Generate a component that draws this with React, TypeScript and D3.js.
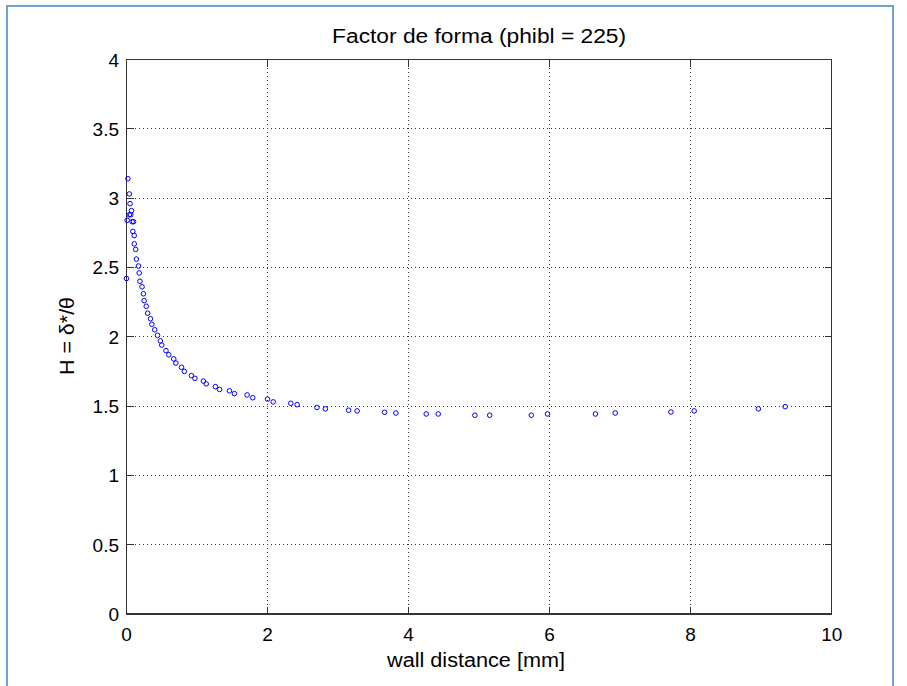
import React from "react";
import * as d3 from "d3";

const xValues: number[] = [
  0.02, 0.04, 0.05, 0.07, 0.04, 0.06, 0.01, 0.08, 0.10, 0.09, 0.11, 0.11, 0.13, 0.14, 0.17, 0.18, 0.0,
  0.19, 0.22, 0.24, 0.25, 0.28, 0.30, 0.34, 0.36, 0.40, 0.44, 0.48, 0.50, 0.56, 0.60, 0.67, 0.70,
  0.78, 0.82, 0.92, 0.97, 1.09, 1.13, 1.26, 1.32, 1.46, 1.53, 1.71, 1.79, 2.00, 2.08, 2.33, 2.42,
  2.70, 2.82, 3.15, 3.27, 3.66, 3.82, 4.25, 4.42, 4.94, 5.15, 5.74, 5.97, 6.65, 6.93, 7.72, 8.05,
  8.96, 9.34,
];
const hValues: number[] = [
  3.14, 3.03, 2.96, 2.91, 2.88, 2.88, 2.84, 2.83, 2.83, 2.76, 2.73, 2.67, 2.63, 2.56, 2.51, 2.46, 2.42,
  2.40, 2.36, 2.31, 2.26, 2.22, 2.17, 2.13, 2.09, 2.05, 2.01, 1.97, 1.94, 1.90, 1.87, 1.84, 1.81,
  1.78, 1.75, 1.72, 1.70, 1.68, 1.66, 1.64, 1.62, 1.61, 1.59, 1.58, 1.56, 1.55, 1.53, 1.52, 1.51,
  1.49, 1.48, 1.47, 1.465, 1.455, 1.45, 1.443, 1.443, 1.434, 1.434, 1.434, 1.443, 1.443, 1.45, 1.457, 1.465,
  1.48, 1.496,
];
const xTicks: number[] = [0, 2, 4, 6, 8, 10];
const yTicks: number[] = [0, 0.5, 1, 1.5, 2, 2.5, 3, 3.5, 4];

const W = 907, H = 686;
const L = 126.5, R = 831.7, T = 59.5, B = 614;
const FONT = "'Liberation Sans', Arial, sans-serif";

export default function App() {
  const x = d3.scaleLinear().domain([0, 10]).range([L, R]);
  const y = d3.scaleLinear().domain([0, 4]).range([B, T]);
  const pts = xValues.map((v, i) => [v, hValues[i]] as [number, number]);
  const tickLen = 7;
  return (
    <div style={{ position: "fixed", left: 0, top: 0, width: W, height: H, overflow: "hidden", background: "#fff" }}>
      <svg width={W} height={H} style={{ display: "block" }}>
        <rect x={0} y={0} width={W} height={H} fill="#fff" />
        <line x1={7} y1={5} x2={7} y2={H} stroke="#6fa3dc" strokeWidth={2} />
        <line x1={6} y1={6} x2={894} y2={6} stroke="#6fa3dc" strokeWidth={2} />
        <line x1={893} y1={5} x2={893} y2={H} stroke="#6fa3dc" strokeWidth={2} />
        {xTicks.slice(1, -1).map((t) => (
          <line key={"gx" + t} x1={x(t)} x2={x(t)} y1={T} y2={B} stroke="#333" strokeWidth={1} strokeDasharray="1,3" shapeRendering="crispEdges" />
        ))}
        {yTicks.slice(1, -1).map((t) => (
          <line key={"gy" + t} x1={L} x2={R} y1={y(t)} y2={y(t)} stroke="#333" strokeWidth={1} strokeDasharray="1,3" shapeRendering="crispEdges" />
        ))}
        {xTicks.map((t) => (
          <g key={"tx" + t}>
            <line x1={x(t)} x2={x(t)} y1={B} y2={B - tickLen} stroke="#333" shapeRendering="crispEdges" />
            <line x1={x(t)} x2={x(t)} y1={T} y2={T + tickLen} stroke="#333" shapeRendering="crispEdges" />
            <text x={x(t)} y={641} textAnchor="middle" fontFamily={FONT} fontSize={19} fill="#000">{t}</text>
          </g>
        ))}
        {yTicks.map((t) => (
          <g key={"ty" + t}>
            <line x1={L} x2={L + tickLen} y1={y(t)} y2={y(t)} stroke="#333" shapeRendering="crispEdges" />
            <line x1={R} x2={R - tickLen} y1={y(t)} y2={y(t)} stroke="#333" shapeRendering="crispEdges" />
            <text x={119} y={y(t) + 7} textAnchor="end" fontFamily={FONT} fontSize={19} fill="#000">{t}</text>
          </g>
        ))}
        <rect x={L} y={T} width={R - L} height={B - T} fill="none" stroke="#333" strokeWidth={1.3} shapeRendering="crispEdges" />
        {pts.map((p, i) => (
          <circle key={i} cx={x(p[0])} cy={y(p[1])} r={2.3} fill="none" stroke="#0000ff" strokeWidth={1} />
        ))}
        <text x={(L + R) / 2} y={43} textAnchor="middle" fontFamily={FONT} fontSize={20} textLength={294} lengthAdjust="spacingAndGlyphs" fill="#000">Factor de forma (phibl = 225)</text>
        <text x={476} y={667} textAnchor="middle" fontFamily={FONT} fontSize={20} textLength={178} lengthAdjust="spacingAndGlyphs" fill="#000">wall distance [mm]</text>
        <text transform={`translate(74,336) rotate(-90)`} textAnchor="middle" fontFamily={FONT} fontSize={20} textLength={78} lengthAdjust="spacingAndGlyphs" fill="#000">H = δ*/θ</text>
      </svg>
    </div>
  );
}
